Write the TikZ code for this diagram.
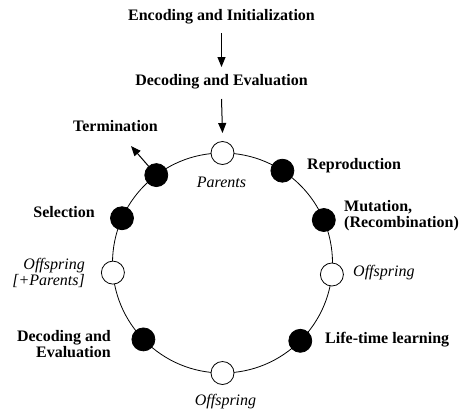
\documentclass[tikz,border=0pt]{standalone}
\usepackage{fontspec}
\setmainfont{Liberation Serif}
\usetikzlibrary{arrows.meta}
\begin{document}
\begin{tikzpicture}[x=1pt,y=-1pt,
  stage/.style={font=\fontsize{16}{16}\selectfont\bfseries, inner sep=0pt},
  pool/.style={font=\fontsize{16}{16}\selectfont\itshape, inner sep=0pt},
  opdot/.style={circle, draw, line width=0.8pt, fill=black, minimum size=23pt, inner sep=0pt},
  popdot/.style={circle, draw, line width=0.8pt, fill=white, minimum size=23pt, inner sep=0pt},
  flow/.style={line width=1pt, -{Triangle[length=10pt,width=8pt]}}]
\useasboundingbox (0,0) rectangle (463,408);

% entry stages above the loop
\node[stage] (enc) at (221.5,17) {Encoding and Initialization};
\node[stage] (dec0) at (221.5,82) {Decoding and Evaluation};

% the cycle
\coordinate (c) at (222.5,263);
\draw[line width=0.8pt] (c) circle[radius=110];

\node[popdot] (parents) at (222.5,153) {};
\node[opdot]  (repro)   at (282.4,170.7) {};
\node[opdot]  (mut)     at (323.8,220) {};
\node[popdot] (offr)    at (331.9,274.5) {};
\node[opdot]  (life)    at (300.3,340.8) {};
\node[popdot] (offb)    at (222.5,373) {};
\node[opdot]  (deval)   at (143.4,339.4) {};
\node[popdot] (offl)    at (112.9,272.6) {};
\node[opdot]  (sel)     at (122,218.2) {};
\node[opdot]  (term)    at (156.3,175.1) {};

% connectors
\coordinate (entry) at (222.5,133);
\coordinate (exit) at (131,146);
\draw[flow] (enc.south |- 0,33) -- (enc.south |- 0,67);
\draw[flow] (dec0.south |- 0,99) -- (entry);
\draw[flow] (term) -- (exit);

% labels
\node[stage] (lterm) at (115.5,126) {Termination};
\node[stage, anchor=west] (lrepro) at (307,166) {Reproduction};
\node[stage, anchor=west, align=left] (lmut) at (344,215.5) {Mutation,\\(Recombination)};
\node[stage, anchor=east] (lsel) at (95,212) {Selection};
\node[pool] (lpar) at (221.5,182) {Parents};
\node[pool, anchor=east, align=right] (loffl) at (85,272.5) {Offspring\\{}[+Parents]};
\node[pool, anchor=west] (loffr) at (353,273) {Offspring};
\node[stage, anchor=east, align=right] (ldeval) at (111,344) {Decoding and\\Evaluation};
\node[stage, anchor=west] (llife) at (325,340) {Life-time learning};
\node[pool] (loffb) at (225.5,402) {Offspring};
\end{tikzpicture}
\end{document}
